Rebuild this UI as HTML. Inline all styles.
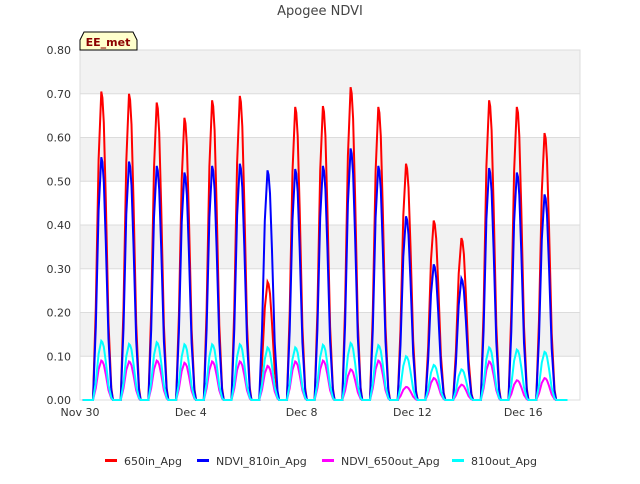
<!DOCTYPE html>
<html><head><meta charset="utf-8"><style>
body{margin:0;background:#fff;font-family:"DejaVu Sans","Liberation Sans",sans-serif;}
svg text{font-family:"DejaVu Sans","Liberation Sans",sans-serif;}
</style></head><body>
<svg id="chart" width="640" height="480" xmlns="http://www.w3.org/2000/svg">
<text x="320" y="15" text-anchor="middle" font-size="13" fill="#444">Apogee NDVI</text>
<g id="grid"></g>
<g id="series"></g>
<g id="axes"></g>
<g>
<path d="M80,40 L84,32 L133,32 L137,40 L137,50 L80,50 Z" fill="#ffffcc" stroke="#000" stroke-width="1"/>
<text x="108" y="46" text-anchor="middle" font-size="11" font-weight="bold" fill="#8b0000">EE_met</text>
</g>
<g id="legend"></g>
</svg>
<script>
const seriesNames=["650in_Apg","NDVI_810in_Apg","NDVI_650out_Apg","810out_Apg"];
const seriesColors=["#ff0000","#0000ff","#ff00ff","#00ffff"];
const dayLabels=["Nov 30","Dec 4","Dec 8","Dec 12","Dec 16"];
const dayTicks=[0,4,8,12,16];
const yTicks=[0,0.1,0.2,0.3,0.4,0.5,0.6,0.7,0.8];
const peaks650in=[0.705,0.70,0.68,0.645,0.685,0.695,0.27,0.67,0.672,0.715,0.67,0.54,0.41,0.37,0.685,0.67,0.61];
const peaks810in=[0.555,0.545,0.535,0.52,0.535,0.54,0.525,0.528,0.535,0.575,0.535,0.42,0.31,0.278,0.53,0.52,0.47];
const peaks650out=[0.09,0.088,0.09,0.085,0.088,0.088,0.078,0.088,0.09,0.07,0.09,0.03,0.05,0.035,0.088,0.045,0.05];
const peaks810out=[0.135,0.128,0.132,0.127,0.127,0.127,0.12,0.12,0.126,0.13,0.125,0.1,0.08,0.07,0.12,0.115,0.11];
const allPeaks=[peaks650in,peaks810in,peaks650out,peaks810out];
const profOff=[-0.36,-0.26,-0.16,-0.06,-0.02,0.03,0.1,0.2,0.3,0.36];
const profVal=[0,0.3,0.78,1,0.98,0.9,0.65,0.25,0.04,0];
const X0=80,X1=580,Y0=400,Y1=50,DMAX=18.05;
const xs=d=>X0+(d/DMAX)*(X1-X0);
const ys=v=>Y0-(v/0.8)*(Y0-Y1);
const NS="http://www.w3.org/2000/svg";
function mk(t,a,p){const e=document.createElementNS(NS,t);for(const k in a)e.setAttribute(k,a[k]);p.appendChild(e);return e;}
const grid=document.getElementById('grid');
for(let i=0;i<yTicks.length-1;i++){
 if(i%2===1){const r=mk('rect',{x:X0,y:ys(yTicks[i+1]),width:X1-X0,height:ys(yTicks[i])-ys(yTicks[i+1]),fill:'#f2f2f2'},grid);
 
 }
}
yTicks.forEach(v=>{const l=mk('line',{x1:X0,x2:X1,y1:ys(v),y2:ys(v),stroke:'#dcdcdc','stroke-width':1},grid);
 
 });
mk('rect',{x:X0,y:Y1,width:X1-X0,height:Y0-Y1,fill:'none',stroke:'#dcdcdc'},grid);
const ser=document.getElementById('series');
allPeaks.forEach((pk,si)=>{
 let pts=[[xs(0.1),ys(0)]];
 pk.forEach((p,d)=>{profOff.forEach((o,k)=>{pts.push([xs(d+0.83+o),ys(p*profVal[k])]);});});
 pts.push([xs(17.6),ys(0)]);
 const pl=mk('polyline',{points:pts.map(q=>q[0].toFixed(1)+','+q[1].toFixed(1)).join(' '),fill:'none',stroke:seriesColors[si],'stroke-width':2},ser);
 
 
});
const ax=document.getElementById('axes');
yTicks.forEach(v=>{const t=mk('text',{x:71,y:ys(v)+4,'text-anchor':'end','font-size':11,fill:'#333'},ax);t.textContent=v.toFixed(2);
 
 });
dayTicks.forEach((d,i)=>{const t=mk('text',{x:xs(d),y:416,'text-anchor':'middle','font-size':11,fill:'#333'},ax);t.textContent=dayLabels[i];
 
 });
const lg=document.getElementById('legend');
const lx=[105,197,322,452];
seriesNames.forEach((n,i)=>{const g=mk('g',{},lg);
 
 
 mk('rect',{x:lx[i],y:459,width:12,height:3,fill:seriesColors[i]},g);
 const t=mk('text',{x:lx[i]+19,y:465,'font-size':11,fill:'#333'},g);t.textContent=n;});
</script>
</body></html>
